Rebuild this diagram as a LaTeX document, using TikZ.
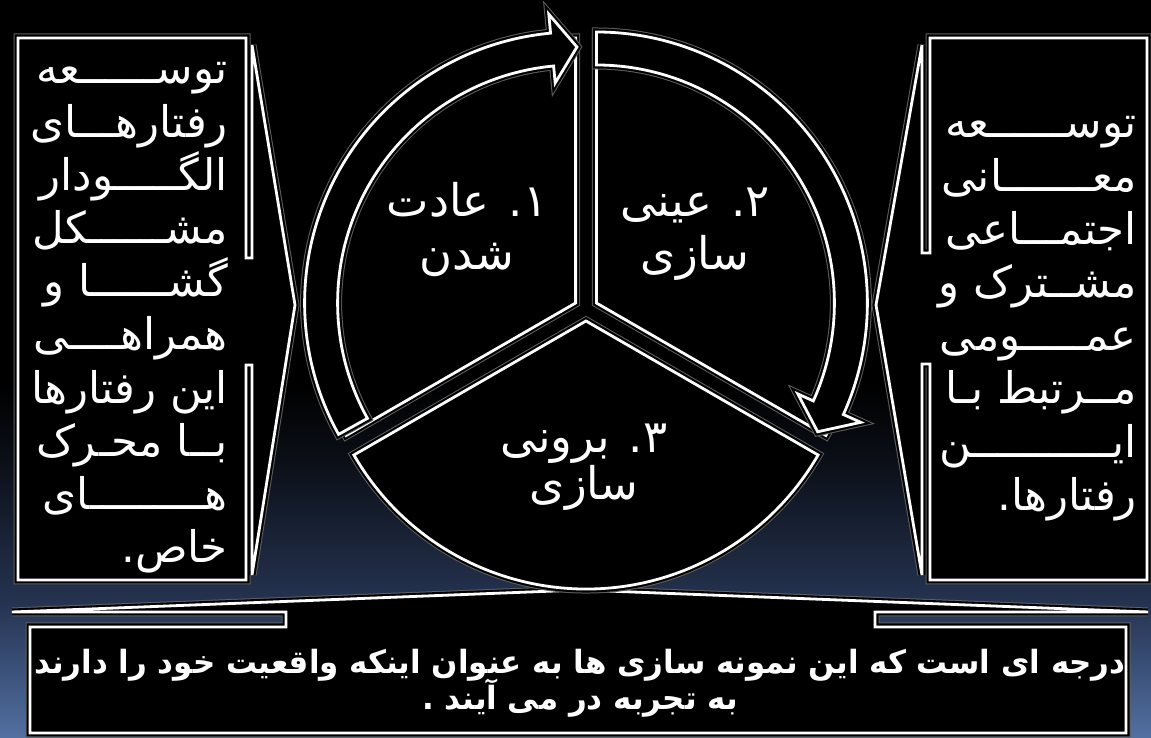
\documentclass[tikz,border=0pt]{standalone}
\usepackage{fontspec}
\TeXXeTstate=1
\newfontfamily\arfont[Script=Arabic]{DejaVu Sans}
\newfontfamily\arbold[Script=Arabic,FakeStretch=0.965]{DejaVu Sans}
\def\kash#1{\ifnum#1>0 ـ\expandafter\kash\expandafter{\the\numexpr#1-1\relax}\fi}
\definecolor{bgbot}{RGB}{82,112,162}
\definecolor{bgmid}{RGB}{38,52,82}
\definecolor{bgdark}{RGB}{10,14,22}
\definecolor{glow}{RGB}{95,95,95}
\pgfdeclareverticalshading{bgshade}{100bp}{color(0bp)=(bgbot); color(25bp)=(bgbot); color(34bp)=(bgmid); color(44bp)=(bgdark); color(49bp)=(black); color(100bp)=(black)}
\tikzset{
  shp/.style={fill=black, draw=white, line width=2.8pt, line join=miter,
    preaction={draw=glow, line width=9pt},
    preaction={draw=black, line width=7pt}},
  sidetxt/.style={text=white, inner sep=0pt, anchor=base east, font=\arfont\fontsize{43.5}{50}\selectfont},
  lbl/.style={text=white, inner sep=0pt, anchor=base, font=\arfont\fontsize{45}{50}\selectfont},
  btxt/.style={text=white, inner sep=0pt, anchor=base, font=\arbold\bfseries\fontsize{32}{34}\selectfont},
}
\begin{document}
\begin{tikzpicture}[x=1pt,y=1pt]
\useasboundingbox (0,0) rectangle (1151,738);
\shade[shading=bgshade] (0,0) rectangle (1151,738);
% left callout
\draw[shp] (18,700) -- (246,700) -- (246,480) -- (252,480) -- (252,693) -- (295,433)
  -- (252,163) -- (252,373) -- (246,373) -- (246,158) -- (18,158) -- cycle;
% right callout
\draw[shp] (1147,700) -- (930,700) -- (930,485) -- (922,485) -- (922,693) -- (876,433)
  -- (922,163) -- (922,374) -- (930,374) -- (930,158) -- (1147,158) -- cycle;
% bottom callout
\draw[shp] (30,111) -- (286,111) -- (286,126) -- (12,126) -- (581,148) -- (1148,126)
  -- (875,126) -- (875,111) -- (1126,111) -- (1126,5) -- (30,5) -- cycle;
% pie wedges
\coordinate (L) at (575.6,435);
\coordinate (R) at (596.4,435);
\coordinate (B) at (586,417);
\draw[shp] (B) -- ([shift={(B)}]210:268) arc[start angle=210,end angle=330,radius=268] -- cycle;
\draw[shp] (L) -- ([shift={(L)}]90:265) arc[start angle=90,end angle=210,radius=265] -- cycle;
\draw[shp] (R) -- ([shift={(R)}]-30:265) arc[start angle=-30,end angle=90,radius=265] -- cycle;
% arrows
\begin{scope}[shift={(575.6,435)}]
\draw[shp] (209:271) arc[start angle=209,end angle=95.3,radius=271] -- (95.3:290) -- (89.7:256)
  -- (95.3:221) -- (95.3:238) arc[start angle=95.3,end angle=209,radius=238] -- cycle;
\end{scope}
\begin{scope}[shift={(596.4,435)}]
\draw[shp] (90:271) arc[start angle=90,end angle=-24.3,radius=271] -- (-24.3:290) -- (-30.2:256)
  -- (-24.3:221) -- (-24.3:238) arc[start angle=-24.3,end angle=90,radius=238] -- cycle;
\end{scope}
% pie labels
\node[lbl] (p1a) at (467,521) {\beginR ١. عادت\endR};
\node[lbl] (p1b) at (467,468) {\beginR شدن\endR};
\node[lbl] (p2a) at (695,521) {\beginR ٢. عینی\endR};
\node[lbl] (p2b) at (695,468) {\beginR سازی\endR};
\node[lbl] (p3a) at (584,285) {\beginR ٣. برونی\endR};
\node[lbl] (p3b) at (584,238) {\beginR سازی\endR};
% left text
\node[sidetxt] (l1) at (228,654) {\beginR توس\kash{6}عه\endR};
\node[sidetxt] (l2) at (228,600.8) {\beginR رفتاره\kash{3}ای\endR};
\node[sidetxt] (l3) at (228,547.6) {\beginR الگ\kash{5}ودار\endR};
\node[sidetxt] (l4) at (228,494.4) {\beginR مش\kash{6}کل\endR};
\node[sidetxt] (l5) at (228,441.2) {\beginR گش\kash{6}ا و\endR};
\node[sidetxt] (l6) at (228,388) {\beginR همراه\kash{4}ی\endR};
\node[sidetxt] (l7) at (228,334.8) {\beginR این رفتارها\endR};
\node[sidetxt] (l8) at (228,281.6) {\beginR ب\kash{2}ا مح\kash{1}رک\endR};
\node[sidetxt] (l9) at (228,228.4) {\beginR ه\kash{9}ای\endR};
\node[sidetxt] (l10) at (228,175.2) {\beginR خاص.\endR};
% right text
\node[sidetxt] (r1) at (1137,600) {\beginR توس\kash{6}عه\endR};
\node[sidetxt] (r2) at (1137,546.8) {\beginR مع\kash{7}انی\endR};
\node[sidetxt] (r3) at (1137,493.6) {\beginR اجتم\kash{3}اعی\endR};
\node[sidetxt] (r4) at (1137,440.4) {\beginR مش\kash{2}ترک و\endR};
\node[sidetxt] (r5) at (1137,387.2) {\beginR عم\kash{5}ومی\endR};
\node[sidetxt] (r6) at (1137,334) {\beginR م\kash{2}رتبط ب\kash{1}ا\endR};
\node[sidetxt] (r7) at (1137,280.8) {\beginR ای\kash{11}ن\endR};
\node[sidetxt] (r8) at (1137,227.6) {\beginR رفتارها.\endR};
% bottom text
\node[btxt] (b1) at (580,64) {\beginR درجه ای است که این نمونه سازی ها به عنوان اینکه واقعیت خود را دارند\endR};
\node[btxt] (b2) at (580,28) {\beginR به تجربه در می آیند .\endR};
\end{tikzpicture}
\end{document}
